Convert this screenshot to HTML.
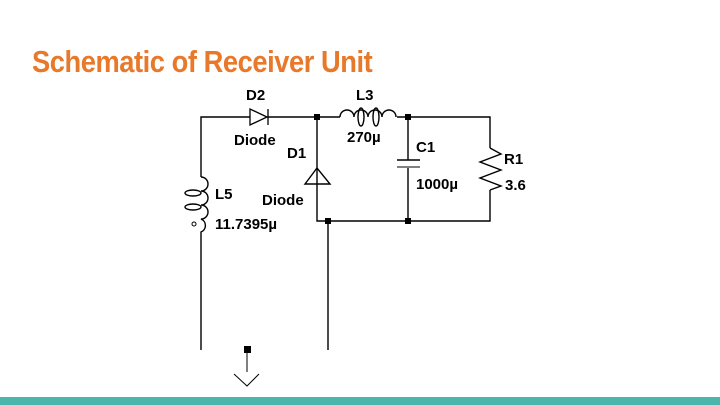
<!DOCTYPE html>
<html><head><style>
body{margin:0;width:720px;height:405px;background:#fff;overflow:hidden;position:relative;font-family:"Liberation Sans",sans-serif}
.t{position:absolute;left:32px;top:44px;font-family:"Liberation Sans",sans-serif;font-weight:bold;font-size:31px;color:#e8782a;letter-spacing:-0.5px;white-space:nowrap;transform:scaleX(0.88);transform-origin:0 0}
.bar{position:absolute;left:0;top:397px;width:720px;height:8px;background:#4db6ac}
svg{position:absolute;left:0;top:0}
text{font-family:"Liberation Sans",sans-serif;font-weight:bold;font-size:15px;fill:#000}
</style></head><body>
<div class="t">Schematic of Receiver Unit</div>
<svg width="720" height="405" stroke="#000" stroke-width="1.4" fill="none">
<path d="M201 177V117H250M268 117H340M397 117H490V148M490 190V221H317V117"/>
<path d="M250 109V125L267 117Z M268 109V125" stroke-width="1.3"/>
<path d="M340 117a7 7 0 0 1 14 0a7 7 0 0 1 14 0a7 7 0 0 1 14 0a7 7 0 0 1 14 0"/>
<ellipse cx="361" cy="117" rx="3" ry="9"/><ellipse cx="376" cy="117" rx="3" ry="9"/>
<path d="M408 117V160M397 160H420M408 168V221"/>
<path d="M397 167H420" stroke-width="1"/>
<path d="M305 184H330L317 168Z"/>
<path d="M490 148L501 154L480 162L501 170L480 178L501 186L490 190"/>
<path d="M201 177a7 7 0 0 1 0 14a7 7 0 0 1 0 14a7 7 0 0 1 0 14a7 7 0 0 1 0 13V350"/>
<ellipse cx="193" cy="193" rx="8" ry="3"/><ellipse cx="193" cy="207" rx="8" ry="3"/>
<circle cx="194" cy="224" r="2" stroke-width="1"/>
<path d="M328 221V350"/>
<path d="M247 350V372M234 374L247 386L259 374" stroke-width="1"/>
<g fill="#000" stroke="none">
<rect x="314" y="114" width="6" height="6"/><rect x="405" y="114" width="6" height="6"/>
<rect x="405" y="218" width="6" height="6"/><rect x="325" y="218" width="6" height="6"/>
<rect x="244" y="346" width="7" height="7"/>
</g>
<g stroke="none">
<text x="246" y="100">D2</text><text x="234" y="145">Diode</text>
<text x="287" y="158">D1</text><text x="262" y="205">Diode</text>
<text x="356" y="100">L3</text><text x="347" y="142">270µ</text>
<text x="416" y="152">C1</text><text x="416" y="189">1000µ</text>
<text x="504" y="164">R1</text><text x="505" y="190">3.6</text>
<text x="215" y="199">L5</text><text x="215" y="229">11.7395µ</text>
</g>
</svg>
<div class="bar"></div>
</body></html>
